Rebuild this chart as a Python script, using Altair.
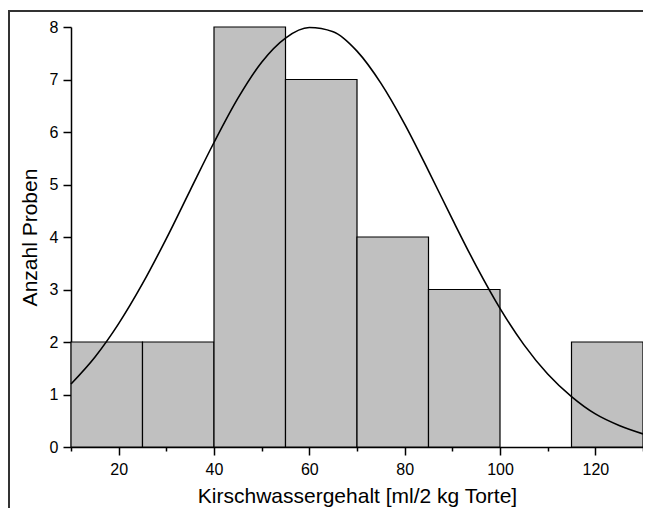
import altair as alt
import pandas as pd

bin_start = [10, 25, 40, 55, 70, 85, 100, 115]
bin_end = [25, 40, 55, 70, 85, 100, 115, 130]
counts = [2, 2, 8, 7, 4, 3, 0, 2]

curve_x = [10, 15, 20, 25, 30, 35, 40, 45, 50, 55, 60, 65, 70, 75, 80, 85, 90, 95,
           100, 105, 110, 115, 120, 125, 130]
curve_y = [1.20, 1.71, 2.35, 3.11, 3.97, 4.89, 5.80, 6.64, 7.33, 7.79, 7.99, 7.91, 7.54,
           6.93, 6.15, 5.26, 4.34, 3.45, 2.64, 1.95, 1.39, 0.96, 0.63, 0.41, 0.25]

x_ticks = [10, 20, 30, 40, 50, 60, 70, 80, 90, 100, 110, 120, 130]
y_ticks = [0, 0.5, 1, 1.5, 2, 2.5, 3, 3.5, 4, 4.5, 5, 5.5, 6, 6.5, 7, 7.5, 8]

bars = pd.DataFrame({"x0": bin_start, "x1": bin_end, "n": counts})
bars = bars[bars["n"] > 0]
curve = pd.DataFrame({"x": curve_x, "y": curve_y})

FONT = "Liberation Sans"

xscale = alt.Scale(domain=[10, 130], nice=False, zero=False)
yscale = alt.Scale(domain=[0, 8], nice=False)

xaxis = alt.Axis(
    values=x_ticks,
    labelExpr="datum.value % 20 == 0 ? datum.label : ''",
    title="Kirschwassergehalt [ml/2 kg Torte]",
    grid=False,
    domainColor="black", domainWidth=1.5,
    tickColor="black", tickWidth=1.5,
    tickSize={"condition": {"test": "datum.value % 20 == 0", "value": 8}, "value": 4},
    labelFont=FONT, labelFontSize=16, labelColor="black", labelPadding=6,
    titleFont=FONT, titleFontSize=21, titleFontWeight="normal", titleColor="black",
    titlePadding=8,
    labelFlush=False,
)
yaxis = alt.Axis(
    values=y_ticks,
    labelExpr="datum.value % 1 == 0 ? datum.label : ''",
    title="Anzahl Proben",
    grid=False,
    domainColor="black", domainWidth=1.5,
    tickColor="black", tickWidth=1.5,
    tickSize={"condition": {"test": "datum.value % 1 == 0", "value": 8}, "value": 4},
    labelFont=FONT, labelFontSize=16, labelColor="black", labelPadding=5,
    titleFont=FONT, titleFontSize=21, titleFontWeight="normal", titleColor="black",
    titlePadding=9,
    labelFlush=False,
)

one = pd.DataFrame({"a": [0]})
frame_top = alt.Chart(one).mark_rule(
    color="#333333", strokeWidth=2, clip=False
).encode(x=alt.value(-62), x2=alt.value(572), y=alt.value(-16))
frame_left = alt.Chart(one).mark_rule(
    color="#333333", strokeWidth=2, clip=False
).encode(x=alt.value(-62), y=alt.value(-17), y2=alt.value(481))

bar_layer = alt.Chart(bars).mark_rect(
    color="#c0c0c0", stroke="black", strokeWidth=1.2
).encode(
    x=alt.X("x0:Q", scale=xscale, axis=xaxis),
    x2="x1:Q",
    y=alt.Y("n:Q", scale=yscale, axis=yaxis),
    y2=alt.datum(0),
)

line_layer = alt.Chart(curve).mark_line(
    color="black", strokeWidth=1.6, interpolate="monotone"
).encode(
    x=alt.X("x:Q", scale=xscale),
    y=alt.Y("y:Q", scale=yscale),
)

chart = alt.layer(bar_layer, line_layer, frame_top, frame_left).properties(
    width=572, height=420,
    background="white",
    autosize=alt.AutoSizeParams(type="none"),
    padding={"left": 63, "top": 19, "right": 0, "bottom": 61},
).configure_view(stroke="transparent", strokeWidth=0)

chart.save("out.html", embed_options={"renderer": "svg", "actions": False})
